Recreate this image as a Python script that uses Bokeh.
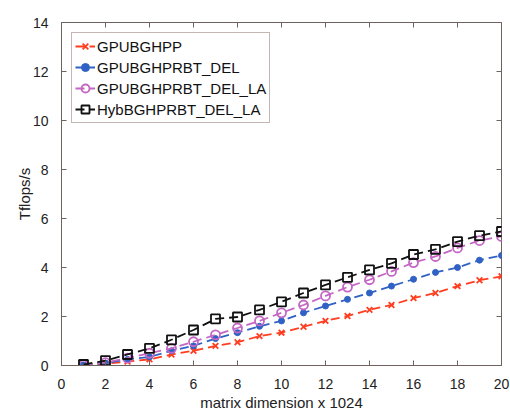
from bokeh.plotting import figure
from bokeh.models import Range1d, LinearAxis, SingleIntervalTicker
from bokeh.embed import file_html
from bokeh.resources import INLINE

x = list(range(1, 21))
gpubghpp = [0.01, 0.07, 0.16, 0.25, 0.45, 0.60, 0.80, 0.95, 1.20, 1.34,
            1.58, 1.82, 2.02, 2.27, 2.47, 2.75, 2.96, 3.24, 3.48, 3.64]
gpubghprbt_del = [0.02, 0.10, 0.25, 0.35, 0.60, 0.80, 1.10, 1.34, 1.60, 1.82,
                  2.15, 2.43, 2.70, 2.96, 3.24, 3.52, 3.80, 4.00, 4.30, 4.49]
gpubghprbt_del_la = [0.03, 0.12, 0.30, 0.50, 0.70, 0.97, 1.25, 1.53, 1.82, 2.15,
                     2.47, 2.84, 3.20, 3.50, 3.84, 4.20, 4.45, 4.80, 5.10, 5.27]
hybbghprbt_del_la = [0.04, 0.20, 0.45, 0.70, 1.05, 1.45, 1.90, 1.98, 2.27, 2.60,
                     2.96, 3.29, 3.60, 3.90, 4.17, 4.53, 4.74, 5.06, 5.30, 5.47]
series_names = ["GPUBGHPP", "GPUBGHPRBT_DEL", "GPUBGHPRBT_DEL_LA", "HybBGHPRBT_DEL_LA"]

FONT = "Liberation Sans"
p = figure(width=510, height=413, output_backend="svg", toolbar_location=None,
           x_range=Range1d(0, 20), y_range=Range1d(0, 14),
           min_border_left=61, min_border_right=9, min_border_top=22, min_border_bottom=45)
p.grid.visible = False
p.outline_line_color = "#6e625c"
p.outline_line_width = 1
p.background_fill_color = "white"
p.border_fill_color = "white"

for ax in (p.xaxis[0], p.yaxis[0]):
    ax.ticker = SingleIntervalTicker(interval=2)
    ax.minor_tick_line_color = None
    ax.major_tick_in = 5
    ax.major_tick_out = 0
    ax.axis_line_color = "#6e625c"
    ax.major_tick_line_color = "#6e625c"
    ax.major_label_text_font = FONT
    ax.major_label_text_font_size = "14px"
    ax.major_label_text_color = "#222222"
    ax.axis_label_text_font = FONT
    ax.axis_label_text_font_size = "15px"
    ax.axis_label_text_font_style = "normal"
    ax.axis_label_text_color = "#222222"

p.xaxis.axis_label = "matrix dimension x 1024"
p.yaxis.axis_label = "Tflops/s"
p.xaxis.major_label_standoff = 9
p.xaxis.axis_label_standoff = 2
p.yaxis.major_label_standoff = 9
p.yaxis.axis_label_standoff = -3

for loc in ("above", "right"):
    ax = LinearAxis(ticker=SingleIntervalTicker(interval=2), major_tick_in=5, major_tick_out=0,
                    minor_tick_line_color=None, axis_line_color=None,
                    major_tick_line_color="#6e625c", major_label_text_color=None,
                    major_label_text_font_size="1px", major_label_standoff=0)
    p.add_layout(ax, loc)

dash = "9 5"
lw = 1.8
# red x
c = "#ff3d1f"
p.line(x, gpubghpp, color=c, line_width=lw, line_dash=dash, legend_label=series_names[0])
p.scatter(x, gpubghpp, marker="x", size=8, line_color=c, line_width=1.8, legend_label=series_names[0])
# blue dots
c = "#2f62c4"
p.line(x, gpubghprbt_del, color=c, line_width=lw, line_dash=dash, legend_label=series_names[1])
p.scatter(x, gpubghprbt_del, marker="circle", size=6, fill_color=c, line_color=c, legend_label=series_names[1])
# magenta circles
c = "#c466c4"
p.line(x, gpubghprbt_del_la, color=c, line_width=lw, line_dash=dash, legend_label=series_names[2])
p.scatter(x, gpubghprbt_del_la, marker="circle", size=9, fill_color=None, line_color=c, line_width=1.8,
          legend_label=series_names[2])
# black squares
c = "#111111"
p.line(x, hybbghprbt_del_la, color=c, line_width=lw, line_dash=dash, legend_label=series_names[3])
p.scatter(x, hybbghprbt_del_la, marker="square", size=9, fill_color=None, line_color=c, line_width=1.8,
          legend_label=series_names[3])

lg = p.legend[0]
lg.location = "top_left"
lg.margin = 10
lg.padding = 3
lg.spacing = 1
lg.label_height = 20
lg.glyph_height = 20
lg.glyph_width = 20
lg.label_standoff = 2
lg.label_text_font = FONT
lg.label_text_font_size = "15px"
lg.label_text_color = "#111111"
lg.border_line_color = "#8a7068"
lg.border_line_width = 1
lg.background_fill_alpha = 1

open("out.html", "w").write(file_html(p, INLINE))
